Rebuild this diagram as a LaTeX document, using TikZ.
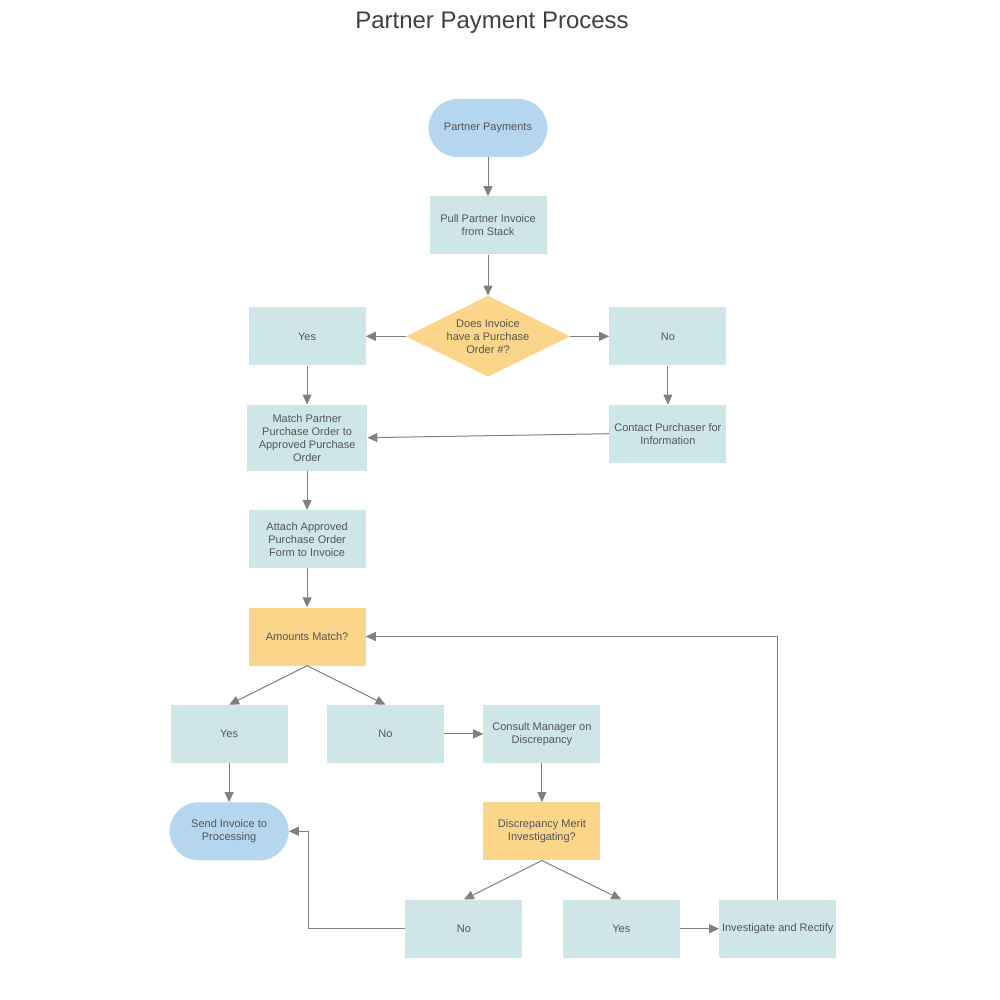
\documentclass[tikz,border=0pt]{standalone}
\usepackage{fontspec}
\setmainfont{Liberation Sans}
\usepackage{xcolor}
\usepackage{tikz}
\usetikzlibrary{arrows.meta,positioning,shapes.geometric}
\definecolor{termblue}{HTML}{B4D6EE}
\definecolor{boxteal}{HTML}{CEE6E8}
\definecolor{decorange}{HTML}{FAD58A}
\definecolor{txtgray}{HTML}{555555}
\definecolor{titlegray}{HTML}{404040}
\definecolor{linegray}{HTML}{808080}

\begin{document}
\begin{tikzpicture}[
  x=1pt, y=1pt,
  node distance=39pt and 39pt,
  every node/.style={font=\fontsize{11}{13}\selectfont, text=txtgray},
  box/.style={fill=boxteal, align=center, minimum width=117pt, minimum height=58pt, inner sep=2pt},
  term/.style={box, fill=termblue, rounded corners=29pt, minimum width=119pt},
  query/.style={box, fill=decorange},
  dec/.style={diamond, aspect=2, fill=decorange, align=center, minimum width=164pt, minimum height=81pt, inner sep=0pt},
  arrow/.style={-{Triangle[length=10pt,width=9pt]}, draw=linegray, line width=1pt}
]
\useasboundingbox (0,0) rectangle (1000,-1000);
\node[font=\fontsize{24}{28}\selectfont, text=titlegray] (title) at (492,-23) {Partner Payment Process};

\node[term] (pp) at (488,-128) {Partner Payments};
\node[box, below=of pp] (pull) {Pull Partner Invoice\\from Stack};
\node[dec, below=41pt of pull] (haspo) {Does Invoice\\have a Purchase\\Order \#?};
\node[box, left=40pt of haspo] (yes1) {Yes};
\node[box, right=of haspo] (no1) {No};
\node[box, below=of yes1, minimum width=120pt, minimum height=66pt] (match) {Match Partner\\Purchase Order to\\Approved Purchase\\Order};
\node[box, below=of no1] (contact) {Contact Purchaser for\\Information};
\node[box, below=of match] (attach) {Attach Approved\\Purchase Order\\Form to Invoice};
\node[query, below=of attach] (amt) {Amounts Match?};

\node[box, below=of amt, xshift=-78pt] (yes2) {Yes};
\node[box, right=of yes2] (no2) {No};
\node[box, right=of no2] (consult) {Consult Manager on\\Discrepancy};
\node[term, below=of yes2] (send) {Send Invoice to\\Processing};
\node[query, below=of consult] (merit) {Discrepancy Merit\\Investigating?};
\node[box, below=of merit, xshift=-78pt] (no3) {No};
\node[box, right=40pt of no3] (yes3) {Yes};
\node[box, right=of yes3] (inv) {Investigate and Rectify};

\draw[arrow] (pp) -- (pull);
\draw[arrow] (pull) -- (haspo);
\draw[arrow] (haspo) -- (yes1);
\draw[arrow] (haspo) -- (no1);
\draw[arrow] (yes1) -- (match);
\draw[arrow] (no1) -- (contact);
\draw[arrow] (contact.west) -- (match.east);
\draw[arrow] (match) -- (attach);
\draw[arrow] (attach) -- (amt);
\draw[arrow] (amt.south) -- (yes2.north);
\draw[arrow] (amt.south) -- (no2.north);
\draw[arrow] (no2) -- (consult);
\draw[arrow] (yes2) -- (send);
\draw[arrow] (consult) -- (merit);
\draw[arrow] (merit.south) -- (no3.north);
\draw[arrow] (merit.south) -- (yes3.north);
\draw[arrow] (yes3) -- (inv);
\draw[arrow] (inv.north) |- (amt.east);
\draw[arrow] (no3.west) -| ([xshift=20pt]send.east) -- (send.east);
\end{tikzpicture}
\end{document}
